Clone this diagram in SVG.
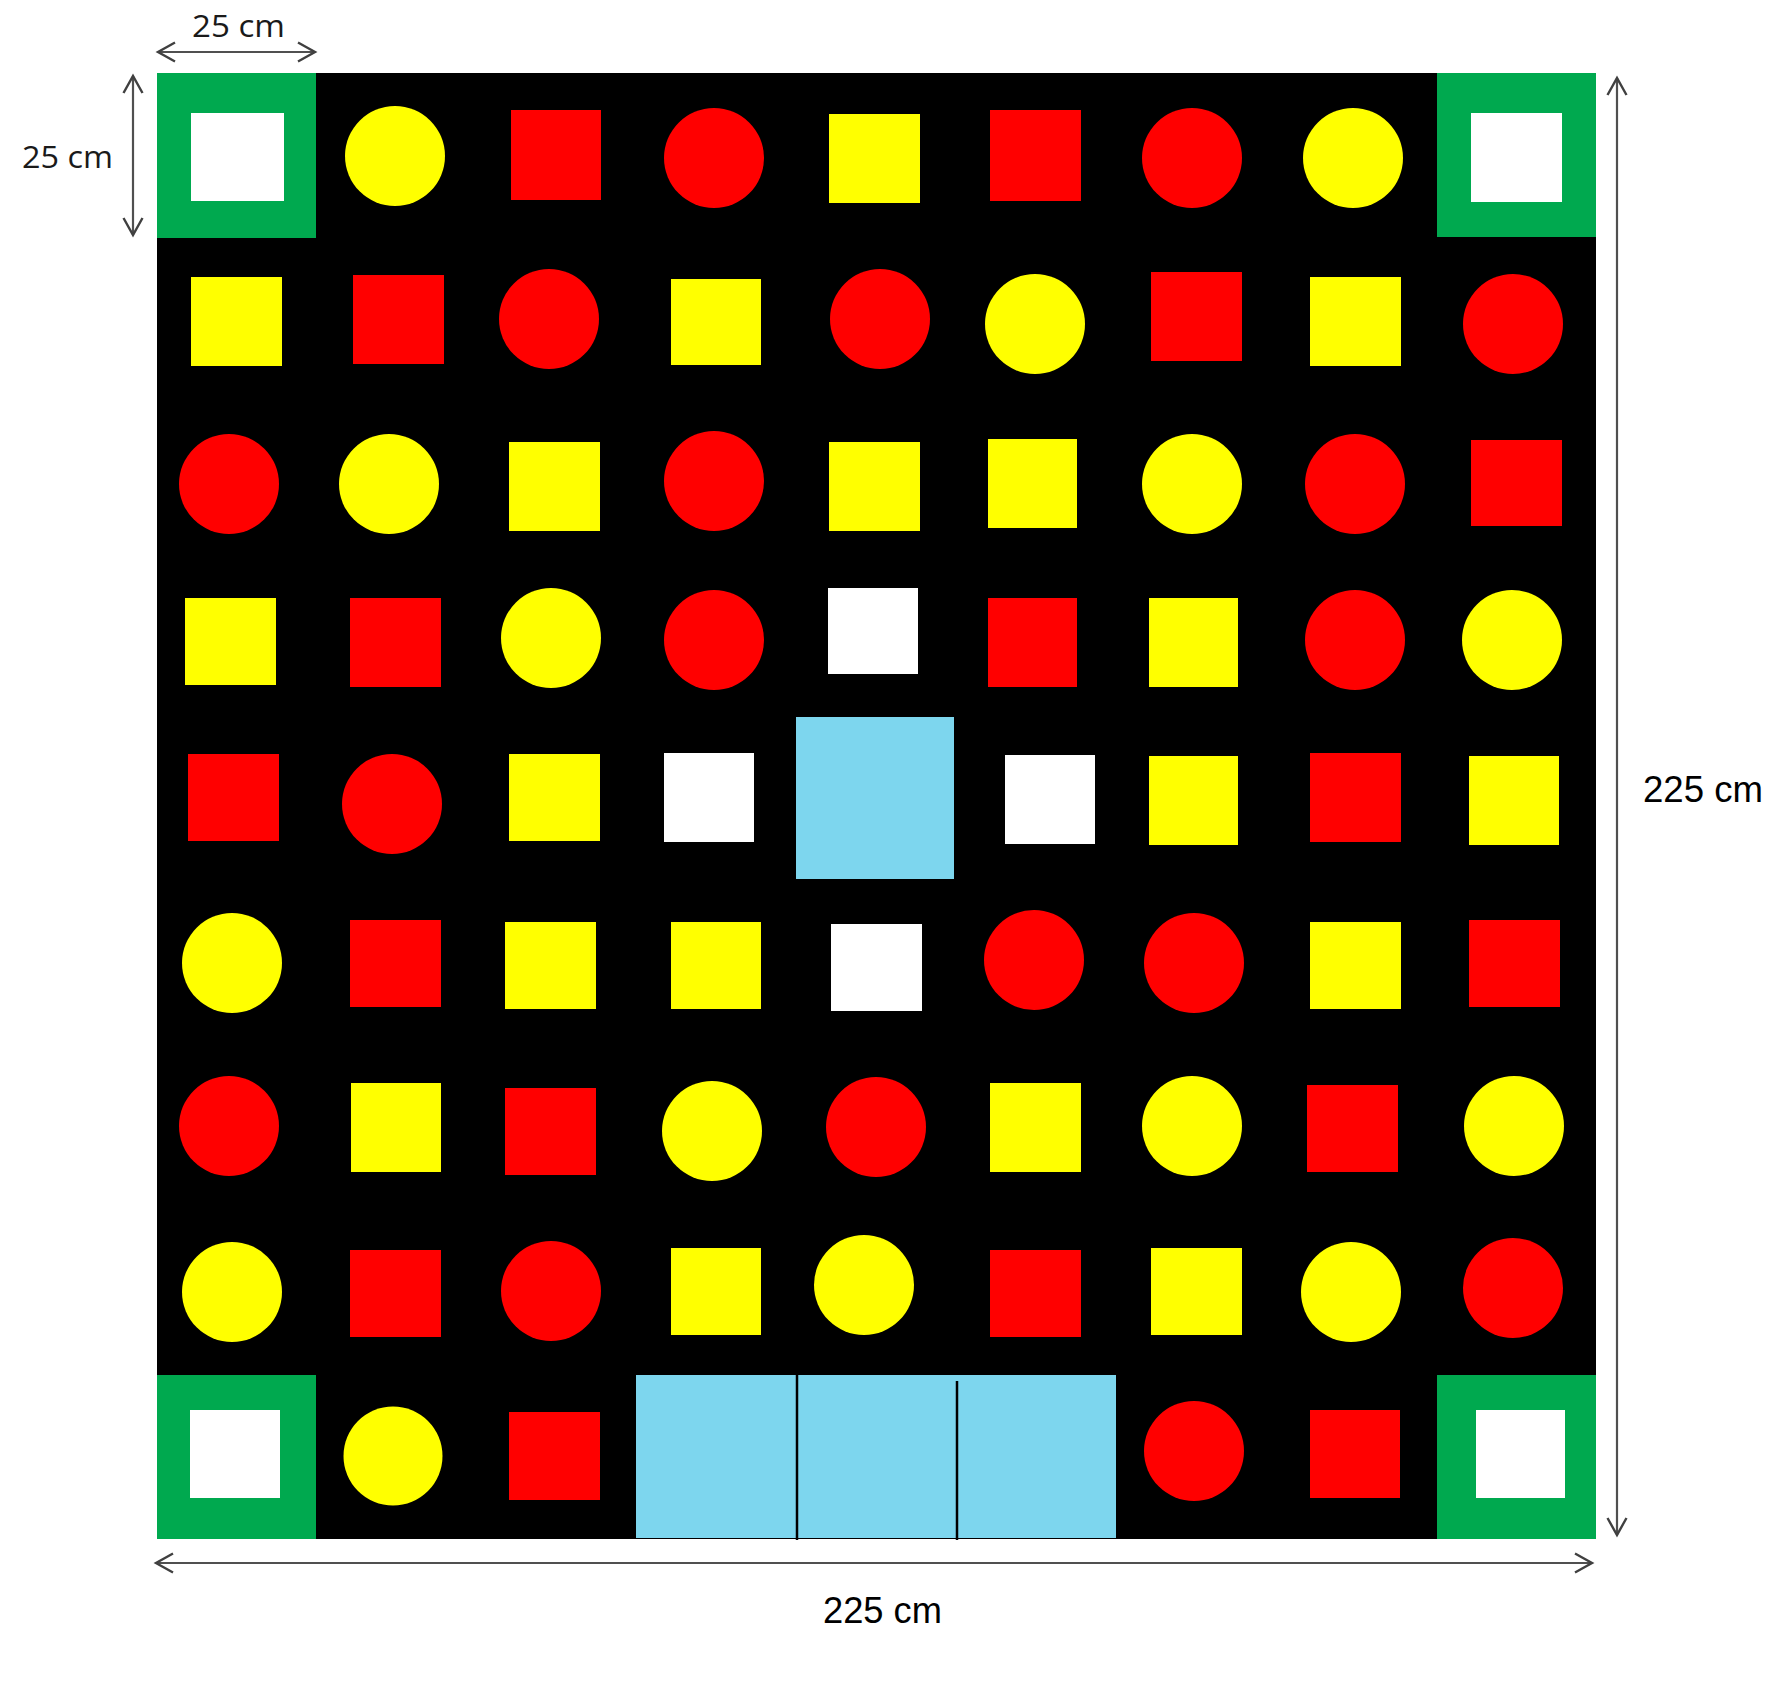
<svg xmlns="http://www.w3.org/2000/svg" width="1780" height="1706" viewBox="0 0 1780 1706">
<style>
.r{fill:#FF0000}.y{fill:#FFFF00}.w{fill:#FFFFFF}.g{fill:#00A94F}.b{fill:#7DD6EE}
.dim{stroke:#505050;stroke-width:2.2;fill:none}
.t1{font-family:"Open Sans","Noto Sans",sans-serif;font-size:31px;fill:#1a1a1a}
.t2{font-family:"Liberation Sans",Arial,sans-serif;font-size:36px;fill:#000}
</style>
<defs>
<marker id="ah" markerWidth="24" markerHeight="24" refX="0" refY="0" viewBox="-20 -12 24 24" orient="auto-start-reverse" markerUnits="userSpaceOnUse">
<path d="M-17,-9.5 L0,0 L-17,9.5" fill="none" stroke="#404040" stroke-width="2.4"/>
</marker>
</defs>
<rect width="1780" height="1706" fill="#fff"/>
<g id="board"><rect x="157" y="73" width="1439" height="1466" fill="#000"/></g>

<g id="row0">
<g id="c00"><rect class="g" x="157" y="73" width="159" height="165"/><rect class="w" x="191" y="113" width="93" height="88"/></g>
<g id="c01"><circle class="y" cx="395" cy="156" r="50"/></g>
<g id="c02"><rect class="r" x="511" y="110" width="90" height="90"/></g>
<g id="c03"><circle class="r" cx="714" cy="158" r="50"/></g>
<g id="c04"><rect class="y" x="829" y="114" width="91" height="89"/></g>
<g id="c05"><rect class="r" x="990" y="110" width="91" height="91"/></g>
<g id="c06"><circle class="r" cx="1192" cy="158" r="50"/></g>
<g id="c07"><circle class="y" cx="1353" cy="158" r="50"/></g>
<g id="c08"><rect class="g" x="1437" y="73" width="159" height="164"/><rect class="w" x="1471" y="113" width="91" height="89"/></g>
</g>

<g id="row1">
<g id="c10"><rect class="y" x="191" y="277" width="91" height="89"/></g>
<g id="c11"><rect class="r" x="353" y="275" width="91" height="89"/></g>
<g id="c12"><circle class="r" cx="549" cy="319" r="50"/></g>
<g id="c13"><rect class="y" x="671" y="279" width="90" height="86"/></g>
<g id="c14"><circle class="r" cx="880" cy="319" r="50"/></g>
<g id="c15"><circle class="y" cx="1035" cy="324" r="50"/></g>
<g id="c16"><rect class="r" x="1151" y="272" width="91" height="89"/></g>
<g id="c17"><rect class="y" x="1310" y="277" width="91" height="89"/></g>
<g id="c18"><circle class="r" cx="1513" cy="324" r="50"/></g>
</g>

<g id="row2">
<g id="c20"><circle class="r" cx="229" cy="484" r="50"/></g>
<g id="c21"><circle class="y" cx="389" cy="484" r="50"/></g>
<g id="c22"><rect class="y" x="509" y="442" width="91" height="89"/></g>
<g id="c23"><circle class="r" cx="714" cy="481" r="50"/></g>
<g id="c24"><rect class="y" x="829" y="442" width="91" height="89"/></g>
<g id="c25"><rect class="y" x="988" y="439" width="89" height="89"/></g>
<g id="c26"><circle class="y" cx="1192" cy="484" r="50"/></g>
<g id="c27"><circle class="r" cx="1355" cy="484" r="50"/></g>
<g id="c28"><rect class="r" x="1471" y="440" width="91" height="86"/></g>
</g>

<g id="row3">
<g id="c30"><rect class="y" x="185" y="598" width="91" height="87"/></g>
<g id="c31"><rect class="r" x="350" y="598" width="91" height="89"/></g>
<g id="c32"><circle class="y" cx="551" cy="638" r="50"/></g>
<g id="c33"><circle class="r" cx="714" cy="640" r="50"/></g>
<g id="c34"><rect class="w" x="828" y="588" width="90" height="86"/></g>
<g id="c35"><rect class="r" x="988" y="598" width="89" height="89"/></g>
<g id="c36"><rect class="y" x="1149" y="598" width="89" height="89"/></g>
<g id="c37"><circle class="r" cx="1355" cy="640" r="50"/></g>
<g id="c38"><circle class="y" cx="1512" cy="640" r="50"/></g>
</g>

<g id="row4">
<g id="c40"><rect class="r" x="188" y="754" width="91" height="87"/></g>
<g id="c41"><circle class="r" cx="392" cy="804" r="50"/></g>
<g id="c42"><rect class="y" x="509" y="754" width="91" height="87"/></g>
<g id="c43"><rect class="w" x="664" y="753" width="90" height="89"/></g>
<g id="c44"><rect class="b" x="796" y="717" width="158" height="162"/></g>
<g id="c45"><rect class="w" x="1005" y="755" width="90" height="89"/></g>
<g id="c46"><rect class="y" x="1149" y="756" width="89" height="89"/></g>
<g id="c47"><rect class="r" x="1310" y="753" width="91" height="89"/></g>
<g id="c48"><rect class="y" x="1469" y="756" width="90" height="89"/></g>
</g>

<g id="row5">
<g id="c50"><circle class="y" cx="232" cy="963" r="50"/></g>
<g id="c51"><rect class="r" x="350" y="920" width="91" height="87"/></g>
<g id="c52"><rect class="y" x="505" y="922" width="91" height="87"/></g>
<g id="c53"><rect class="y" x="671" y="922" width="90" height="87"/></g>
<g id="c54"><rect class="w" x="831" y="924" width="91" height="87"/></g>
<g id="c55"><circle class="r" cx="1034" cy="960" r="50"/></g>
<g id="c56"><circle class="r" cx="1194" cy="963" r="50"/></g>
<g id="c57"><rect class="y" x="1310" y="922" width="91" height="87"/></g>
<g id="c58"><rect class="r" x="1469" y="920" width="91" height="87"/></g>
</g>

<g id="row6">
<g id="c60"><circle class="r" cx="229" cy="1126" r="50"/></g>
<g id="c61"><rect class="y" x="351" y="1083" width="90" height="89"/></g>
<g id="c62"><rect class="r" x="505" y="1088" width="91" height="87"/></g>
<g id="c63"><circle class="y" cx="712" cy="1131" r="50"/></g>
<g id="c64"><circle class="r" cx="876" cy="1127" r="50"/></g>
<g id="c65"><rect class="y" x="990" y="1083" width="91" height="89"/></g>
<g id="c66"><circle class="y" cx="1192" cy="1126" r="50"/></g>
<g id="c67"><rect class="r" x="1307" y="1085" width="91" height="87"/></g>
<g id="c68"><circle class="y" cx="1514" cy="1126" r="50"/></g>
</g>

<g id="row7">
<g id="c70"><circle class="y" cx="232" cy="1292" r="50"/></g>
<g id="c71"><rect class="r" x="350" y="1250" width="91" height="87"/></g>
<g id="c72"><circle class="r" cx="551" cy="1291" r="50"/></g>
<g id="c73"><rect class="y" x="671" y="1248" width="90" height="87"/></g>
<g id="c74"><circle class="y" cx="864" cy="1285" r="50"/></g>
<g id="c75"><rect class="r" x="990" y="1250" width="91" height="87"/></g>
<g id="c76"><rect class="y" x="1151" y="1248" width="91" height="87"/></g>
<g id="c77"><circle class="y" cx="1351" cy="1292" r="50"/></g>
<g id="c78"><circle class="r" cx="1513" cy="1288" r="50"/></g>
</g>

<g id="row8">
<g id="c80"><rect class="g" x="157" y="1375" width="159" height="164"/><rect class="w" x="190" y="1410" width="90" height="88"/></g>
<g id="c81"><circle class="y" cx="393" cy="1456" r="49.5"/></g>
<g id="c82"><rect class="r" x="509" y="1412" width="91" height="88"/></g>
<g id="c83"><rect class="b" x="636" y="1375" width="480" height="163"/><line x1="797" y1="1375" x2="797" y2="1540" stroke="#000" stroke-width="2.5"/><line x1="957" y1="1381" x2="957" y2="1540" stroke="#000" stroke-width="2.5"/></g>
<g id="c86"><circle class="r" cx="1194" cy="1451" r="50"/></g>
<g id="c87"><rect class="r" x="1310" y="1410" width="90" height="88"/></g>
<g id="c88"><rect class="g" x="1437" y="1375" width="159" height="164"/><rect class="w" x="1476" y="1410" width="89" height="88"/></g>
</g>

<g id="dimensions">
<line class="dim" x1="158" y1="52" x2="315" y2="52" marker-start="url(#ah)" marker-end="url(#ah)"/>
<line class="dim" x1="133" y1="76" x2="133" y2="235" marker-start="url(#ah)" marker-end="url(#ah)"/>
<line class="dim" x1="1617" y1="78" x2="1617" y2="1535" marker-start="url(#ah)" marker-end="url(#ah)"/>
<line class="dim" x1="156" y1="1563" x2="1592" y2="1563" marker-start="url(#ah)" marker-end="url(#ah)"/>
</g>

<g id="labels">
<text class="t1" x="192" y="37" textLength="93" lengthAdjust="spacingAndGlyphs">25 cm</text>
<text class="t1" x="22" y="168" textLength="91" lengthAdjust="spacingAndGlyphs">25 cm</text>
<text class="t2" x="1643" y="802" textLength="120" lengthAdjust="spacingAndGlyphs">225 cm</text>
<text class="t2" x="823" y="1623" textLength="119" lengthAdjust="spacingAndGlyphs">225 cm</text>
</g>
</svg>
